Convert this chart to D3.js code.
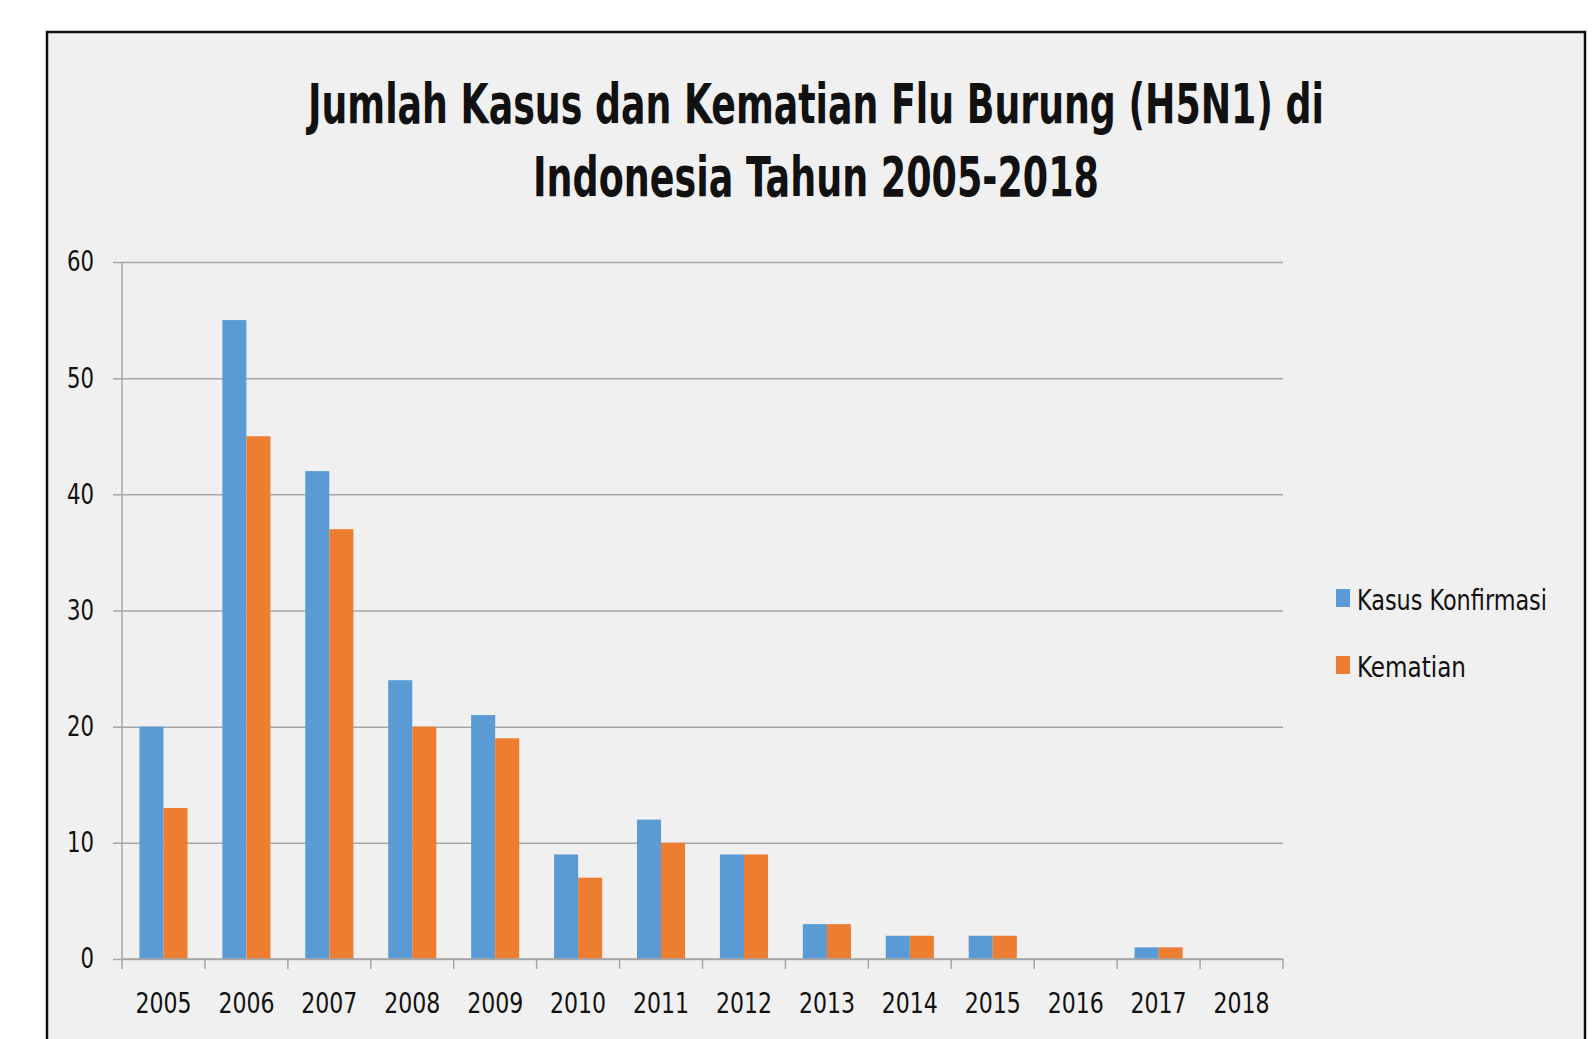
<html>
<head>
    <meta charset="utf-8"/>
    <title>Jumlah Kasus dan Kematian Flu Burung</title>
    <script src="https://d3js.org/d3.v7.min.js"></script>
</head>
<style>
    body {
        margin: 0;
        background: #ffffff;
    }
    svg {
        display: block;
    }
    text {
        font-family: "Liberation Sans Narrow", "DejaVu Sans Condensed", sans-serif;
        fill: #111;
    }
</style>
<body>
<svg class="main" width="1593" height="1039"></svg>
</body>
<script>
    var years = ["2005", "2006", "2007", "2008", "2009", "2010", "2011", "2012", "2013", "2014", "2015", "2016", "2017", "2018"]
    var kasus = [20, 55, 42, 24, 21, 9, 12, 9, 3, 2, 2, 0, 1, 0]
    var kematian = [13, 45, 37, 20, 19, 7, 10, 9, 3, 2, 2, 0, 1, 0]
    var seriesNames = ["Kasus Konfirmasi", "Kematian"]
    var colors = ["#5b9bd5", "#ed7d31"]
    var yTicks = [0, 10, 20, 30, 40, 50, 60]
    var titleLines = ["Jumlah Kasus dan Kematian Flu Burung (H5N1) di", "Indonesia Tahun 2005-2018"]

    var svg = d3.select("svg.main")

    // chart frame
    svg.append("rect")
        .attr("x", 47).attr("y", 32)
        .attr("width", 1538).attr("height", 1100)
        .attr("fill", "#f0f0f0")
        .attr("stroke", "#111")
        .attr("stroke-width", 2.5)

    var plotLeft = 122, plotRight = 1283, plotTop = 262, plotBottom = 959

    var x0 = d3.scaleBand()
        .domain(years)
        .range([plotLeft, plotRight])
        .paddingInner(0.42)
        .paddingOuter(0.21)
    var x1 = d3.scaleBand()
        .domain(seriesNames)
        .range([0, x0.bandwidth()])
    var y = d3.scaleLinear()
        .domain([0, 60])
        .range([plotBottom, plotTop])

    // gridlines + y axis
    var yAxis = d3.axisLeft(y)
        .tickValues(yTicks)
        .tickSize(-(plotRight - plotLeft))
        .tickPadding(28)
    var gy = svg.append("g")
        .attr("transform", "translate(" + plotLeft + ",0)")
        .call(yAxis)
    gy.select(".domain").remove()
    gy.selectAll(".tick line")
        .attr("x1", -9)
        .attr("stroke", "#a6a6a6")
        .attr("stroke-width", 1.5)
    gy.selectAll(".tick text")
        .style("font-size", "28px")
        .attr("fill", "#111")
        .attr("textLength", function (d) {
            return String(d).length * 13.5
        })
        .attr("lengthAdjust", "spacingAndGlyphs")

    svg.append("line")
        .attr("x1", plotLeft).attr("x2", plotLeft)
        .attr("y1", plotTop).attr("y2", plotBottom)
        .attr("stroke", "#a6a6a6")
        .attr("stroke-width", 1.5)

    // bars
    var rows = years.map(function (yr, i) {
        return {year: yr, values: [kasus[i], kematian[i]]}
    })
    var groups = svg.append("g").selectAll("g.year")
        .data(rows)
        .enter()
        .append("g")
        .attr("class", "year")
        .attr("transform", function (d) {
            return "translate(" + x0(d.year) + ",0)"
        })
    groups.selectAll("rect")
        .data(function (d) {
            return d.values.map(function (v, k) {
                return {name: seriesNames[k], value: v, color: colors[k]}
            })
        })
        .enter()
        .append("rect")
        .attr("x", function (d) {
            return x1(d.name)
        })
        .attr("y", function (d) {
            return y(d.value)
        })
        .attr("width", x1.bandwidth())
        .attr("height", function (d) {
            return y(0) - y(d.value)
        })
        .attr("fill", function (d) {
            return d.color
        })

    // x axis
    var step = x0.step()
    var bounds = d3.range(years.length + 1).map(function (i) {
        return plotLeft + i * step
    })
    svg.append("line")
        .attr("x1", plotLeft).attr("x2", plotRight)
        .attr("y1", plotBottom).attr("y2", plotBottom)
        .attr("stroke", "#a6a6a6")
        .attr("stroke-width", 1.5)
    svg.append("g").selectAll("line")
        .data(bounds)
        .enter()
        .append("line")
        .attr("x1", function (d) { return d })
        .attr("x2", function (d) { return d })
        .attr("y1", plotBottom)
        .attr("y2", plotBottom + 10)
        .attr("stroke", "#a6a6a6")
        .attr("stroke-width", 1.5)
    svg.append("g").selectAll("text")
        .data(years)
        .enter()
        .append("text")
        .attr("x", function (d) {
            return x0(d) + x0.bandwidth() / 2
        })
        .attr("y", 1013)
        .attr("text-anchor", "middle")
        .attr("textLength", 56)
        .attr("lengthAdjust", "spacingAndGlyphs")
        .style("font-size", "28px")
        .text(function (d) { return d })

    // title
    svg.append("text")
        .attr("x", 816).attr("y", 123)
        .attr("text-anchor", "middle")
        .attr("textLength", 1016)
        .attr("lengthAdjust", "spacingAndGlyphs")
        .style("font-size", "56px")
        .style("font-weight", "bold")
        .text(titleLines[0])
    svg.append("text")
        .attr("x", 816).attr("y", 196)
        .attr("text-anchor", "middle")
        .attr("textLength", 566)
        .attr("lengthAdjust", "spacingAndGlyphs")
        .style("font-size", "56px")
        .style("font-weight", "bold")
        .text(titleLines[1])

    // legend
    var legendWidths = [190, 109]
    var legend = svg.append("g").selectAll("g.leg")
        .data(seriesNames)
        .enter()
        .append("g")
        .attr("class", "leg")
        .attr("transform", function (d, i) {
            return "translate(1336," + (589 + i * 67) + ")"
        })
    legend.append("rect")
        .attr("width", 14).attr("height", 18)
        .attr("fill", function (d, i) { return colors[i] })
    legend.append("text")
        .attr("x", 21).attr("y", 21)
        .attr("textLength", function (d, i) { return legendWidths[i] })
        .attr("lengthAdjust", "spacingAndGlyphs")
        .style("font-size", "28px")
        .text(function (d) { return d })
</script>
</html>
